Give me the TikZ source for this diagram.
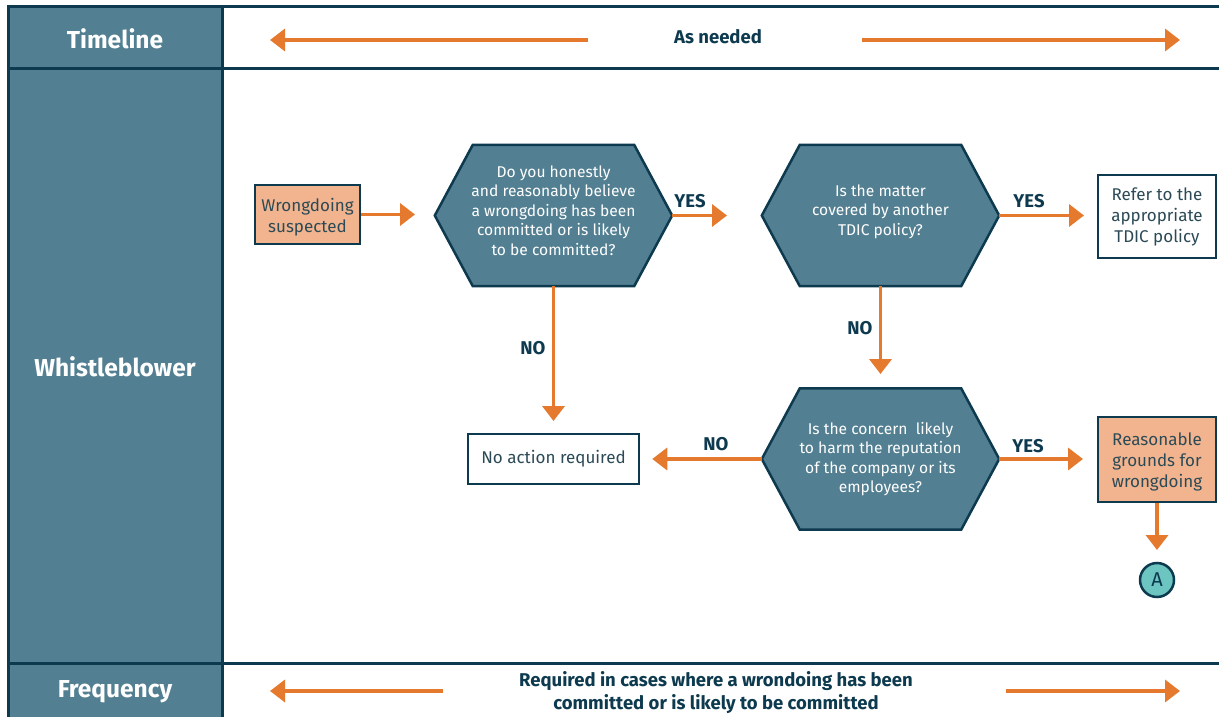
\documentclass[tikz,border=0pt]{standalone}
\usepackage{fontspec}
\setmainfont{Fira Sans}
\usetikzlibrary{arrows.meta,calc}
\definecolor{navy}{HTML}{0D3A4F}
\definecolor{slate}{HTML}{527F91}
\definecolor{flow}{HTML}{E57A2E}
\definecolor{salmon}{HTML}{F2B48F}
\definecolor{aqua}{HTML}{6CC5C0}
\definecolor{boxtext}{HTML}{2B4A56}
\begin{document}
\begin{tikzpicture}[x=1pt,y=-1pt,
  frame/.style={draw=navy,line width=3pt},
  flowarrow/.style={draw=flow,line width=3.5pt,-{Triangle[width=22pt,length=15pt]}},
  lanehead/.style={text=white,font=\fontsize{24.5}{28}\selectfont\bfseries},
  tag/.style={text=navy,font=\fontsize{18.5}{21}\selectfont\bfseries},
  question/.style={minimum width=237pt,minimum height=141pt,inner sep=0pt,align=center,
    text=white,font=\fontsize{15.6}{19.4}\selectfont},
  hexfill/.style={fill=slate,draw=navy,line width=2.5pt,line join=miter},
  stepbox/.style={draw=navy,line width=2.5pt,align=center,inner sep=0pt,
    text=boxtext,font=\fontsize{17}{21}\selectfont},
  actionbox/.style={stepbox,fill=salmon},
  endbox/.style={stepbox,fill=white},
  connector/.style={circle,draw=navy,line width=2.5pt,fill=aqua,minimum size=34pt,inner sep=0pt,
    text=navy,font=\fontsize{20}{20}\selectfont}]
\useasboundingbox (0,0) rectangle (1219,717);
\fill[white] (0,0) rectangle (1219,717);

% swimlane grid
\fill[slate] (8,7) rectangle (222,717);
\draw[frame] (1219,7) -- (8,7) -- (8,717);
\draw[frame] (222,7) -- (222,717);
\draw[frame] (8,69) -- (1219,69);
\draw[frame] (8,663) -- (1219,663);

% lane headings
\node[lanehead] (tl) at (115,39) {Timeline};
\node[lanehead] (wb) at (115,367) {Whistleblower};
\node[lanehead] (fq) at (115,692) {Frequency};

% timeline row
\node[tag] (asneeded) at (718,37) {As needed};
\coordinate (tlL0) at (588,40); \coordinate (tlL1) at (270,40);
\coordinate (tlR0) at (862,40); \coordinate (tlR1) at (1180,40);
\draw[flowarrow] (tlL0) -- (tlL1);
\draw[flowarrow] (tlR0) -- (tlR1);

% frequency row
\node[tag,align=center,font=\fontsize{18.5}{23.5}\selectfont\bfseries] (freq) at (716,692.5)
  {Required in cases where a wrondoing has been\\committed or is likely to be committed};
\coordinate (fqL0) at (443,691); \coordinate (fqL1) at (270,691);
\coordinate (fqR0) at (1006,691); \coordinate (fqR1) at (1180,691);
\draw[flowarrow] (fqL0) -- (fqL1);
\draw[flowarrow] (fqR0) -- (fqR1);

% decision hexagons
\node[question] (q1) at (553.5,215.5) {};
\node[question] (q2) at (880.5,215.5) {};
\node[question] (q3) at (880.5,459) {};
\foreach \h in {q1,q2,q3}{
  \draw[hexfill] (\h.west) -- ($(\h.north west)+(38,0)$) -- ($(\h.north east)+(-38,0)$)
    -- (\h.east) -- ($(\h.south east)+(-38,0)$) -- ($(\h.south west)+(38,0)$) -- cycle;
}
\node[question] at ($(q1)+(0,-5)$) {Do you honestly\\and reasonably believe\\a wrongdoing has been\\committed or is likely\\to be committed?};
\node[question] at ($(q2)+(0,-4)$) {Is the matter\\covered by another\\TDIC policy?};
\node[question] at ($(q3)+(0,0)$) {Is the concern\ \ likely\\to harm the reputation\\of the company or its\\employees?};

% process boxes
\node[actionbox,minimum width=105pt,minimum height=59pt] (start) at (307.5,214.5) {};
\node[stepbox,draw=none] at ($(start)+(0,3)$) {Wrongdoing\\suspected};
\node[endbox,minimum width=118pt,minimum height=83pt] (refer) at (1157,216.5) {Refer to the\\appropriate\\TDIC policy};
\node[endbox,minimum width=171pt,minimum height=50pt] (noact) at (553.5,459) {No action required};
\node[actionbox,minimum width=118pt,minimum height=85pt] (grounds) at (1157,459.5) {};
\node[stepbox,draw=none] at ($(grounds)+(0,2)$) {Reasonable\\grounds for\\wrongdoing};
\node[connector] (conA) at (1157,580) {A};

% flow connectors
\draw[flowarrow] (start.east) -- (415,214.5);
\draw[flowarrow] (q1.east) -- (727,215.5);
\node[tag] (yes1) at (690,201) {YES};
\draw[flowarrow] (q2.east) -- (1084,215.5);
\node[tag] (yes2) at (1029,201) {YES};
\draw[flowarrow] (q1.south) -- (553.5,421);
\node[tag] (no1) at (533,348) {NO};
\draw[flowarrow] (q2.south) -- (880.5,374);
\node[tag] (no2) at (860,328) {NO};
\draw[flowarrow] (q3.west) -- ($(noact.east)+(12,0)$);
\node[tag] (no3) at (716,444) {NO};
\draw[flowarrow] (q3.east) -- (1083,459);
\node[tag] (yes3) at (1028,446) {YES};
\draw[flowarrow] (grounds.south) -- (1157,550);
\end{tikzpicture}
\end{document}
